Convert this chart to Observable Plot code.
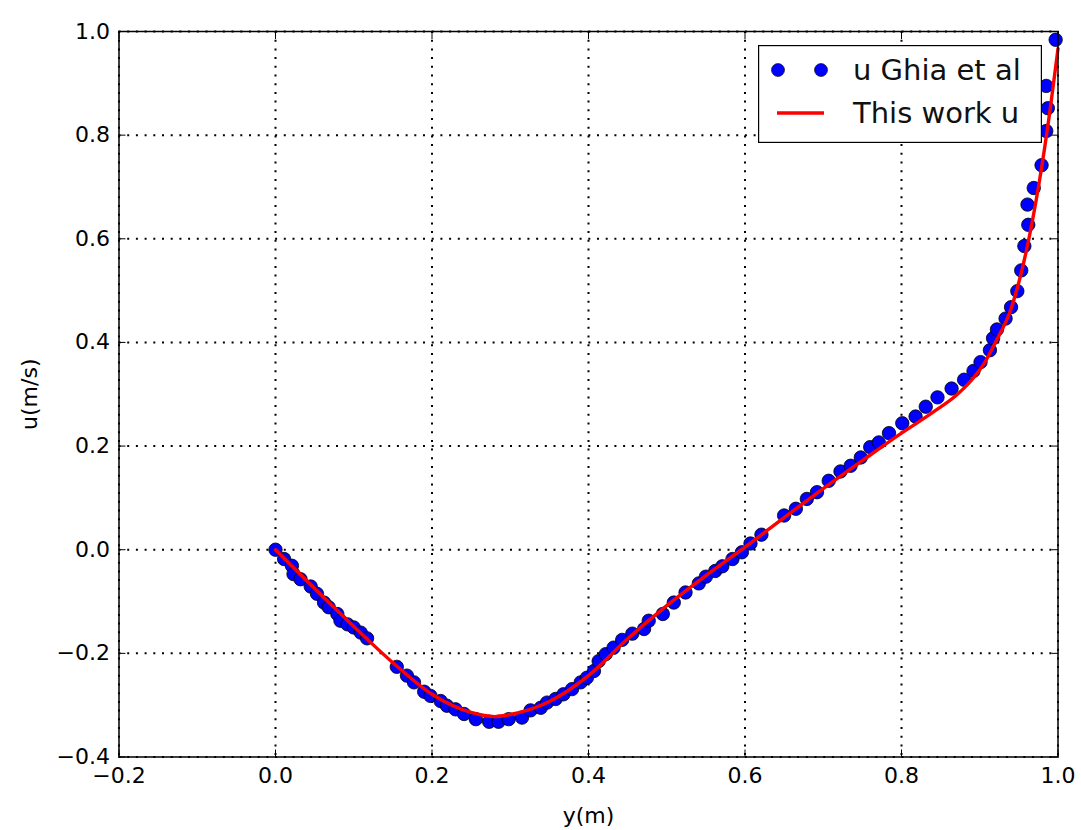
<!DOCTYPE html>
<html>
<head>
<meta charset="utf-8">
<script src="https://cdn.jsdelivr.net/npm/d3@7"></script>
<script src="https://cdn.jsdelivr.net/npm/@observablehq/plot@0.6"></script>
<style>
  body { margin: 0; background: #fff; }
  #wrap { position: relative; width: 1081px; height: 830px; font-family: "DejaVu Sans", sans-serif; }
  #legend { position: absolute; left: 758px; top: 45px; }
</style>
</head>
<body>
<div id="wrap"></div>
<script>
// Ghia et al. reference points (y position, u velocity)
const ghiaY = [0.000, 0.011, 0.021, 0.023, 0.032, 0.045, 0.053, 0.062, 0.068, 0.079, 0.083, 0.092, 0.100, 0.109, 0.117,
  0.155, 0.168, 0.177, 0.190, 0.198, 0.211, 0.219, 0.230, 0.241, 0.256, 0.273, 0.285, 0.298, 0.315, 0.326,
  0.339, 0.347, 0.358, 0.368, 0.379, 0.390, 0.398, 0.407, 0.413, 0.422, 0.432, 0.443, 0.456, 0.471, 0.477,
  0.495, 0.509, 0.524, 0.541, 0.550, 0.562, 0.571, 0.584, 0.596, 0.607, 0.621, 0.650, 0.665, 0.679, 0.692,
  0.707, 0.722, 0.735, 0.748, 0.760, 0.771, 0.784, 0.801, 0.818, 0.831, 0.846, 0.864, 0.880, 0.892, 0.901,
  0.913, 0.917, 0.922, 0.933, 0.940, 0.948, 0.953, 0.957, 0.962, 0.961, 0.969, 0.979, 0.985, 0.987, 0.985, 0.997];
const ghiaU = [0.000, -0.018, -0.031, -0.047, -0.057, -0.071, -0.085, -0.102, -0.111, -0.124, -0.137, -0.144, -0.150, -0.160, -0.171,
  -0.226, -0.243, -0.256, -0.274, -0.282, -0.292, -0.301, -0.308, -0.317, -0.327, -0.332, -0.332, -0.327, -0.324, -0.310,
  -0.305, -0.295, -0.288, -0.279, -0.269, -0.256, -0.247, -0.234, -0.215, -0.2015, -0.189, -0.174, -0.162, -0.153, -0.137,
  -0.124, -0.102, -0.0825, -0.065, -0.052, -0.041, -0.032, -0.018, -0.005, 0.012, 0.029, 0.066, 0.079, 0.098, 0.111,
  0.133, 0.151, 0.162, 0.178, 0.198, 0.207, 0.225, 0.244, 0.257, 0.276, 0.294, 0.311, 0.328, 0.345, 0.362,
  0.385, 0.408, 0.425, 0.446, 0.468, 0.499, 0.539, 0.586, 0.627, 0.666, 0.698, 0.742, 0.808, 0.852, 0.895, 0.984];

// This work (solid red line)
const workY = [0, 0.05, 0.10, 0.15, 0.20, 0.25, 0.28, 0.30, 0.35, 0.40, 0.45, 0.50, 0.55, 0.60, 0.65, 0.70, 0.75,
  0.80, 0.84, 0.87, 0.89, 0.905, 0.92, 0.94, 0.96, 0.975, 0.99, 1.0];
const workU = [0, -0.075, -0.148, -0.218, -0.279, -0.314, -0.322, -0.318, -0.293, -0.243, -0.172, -0.108, -0.050,
  0.005, 0.062, 0.118, 0.172, 0.225, 0.265, 0.298, 0.328, 0.358, 0.40, 0.465, 0.58, 0.70, 0.85, 0.967];

const xTicks = [-0.2, 0.0, 0.2, 0.4, 0.6, 0.8, 1.0];
const yTicks = [-0.4, -0.2, 0.0, 0.2, 0.4, 0.6, 0.8, 1.0];
const xLabel = "y(m)";
const yLabel = "u(m/s)";
const legendLabels = ["u Ghia et al", "This work u"];

const ghia = ghiaY.map((y, i) => ({y, u: ghiaU[i]}));
const work = workY.map((y, i) => ({y, u: workU[i]}));
const fmt = d3.format(".1f");
const grid = {stroke: "black", strokeOpacity: 1, strokeWidth: 2, strokeDasharray: "2,6.7"};
const noText = () => "";

const chart = Plot.plot({
  width: 1081,
  height: 830,
  marginLeft: 118.5,
  marginRight: 23.5,
  marginTop: 31,
  marginBottom: 73.5,
  style: {fontFamily: "DejaVu Sans", fontSize: "22px", background: "white", color: "black"},
  x: {domain: [-0.2, 1.0]},
  y: {domain: [-0.4, 1.0]},
  marks: [
    Plot.gridX(xTicks, grid),
    Plot.gridY(yTicks, grid),
    Plot.dot(ghia, {x: "y", y: "u", r: 6.7, fill: "#0000ff", stroke: "black", strokeWidth: 0.8}),
    Plot.line(work, {x: "y", y: "u", stroke: "red", strokeWidth: 3.4, curve: "monotone-x"}),
    Plot.axisX(xTicks, {anchor: "bottom", tickSize: 0, tickPadding: 10, tickFormat: fmt, label: xLabel, labelArrow: "none", labelAnchor: "center", labelOffset: 66, fontSize: 22}),
    Plot.axisY(yTicks, {anchor: "left", tickSize: 0, tickPadding: 9, tickFormat: fmt, label: yLabel, labelArrow: "none", labelAnchor: "center", labelOffset: 98, fontSize: 22}),
    Plot.axisX(xTicks, {anchor: "bottom", tickSize: -7, tickFormat: noText, label: null}),
    Plot.axisX(xTicks, {anchor: "top", tickSize: -7, tickFormat: noText, label: null}),
    Plot.axisY(yTicks, {anchor: "left", tickSize: -7, tickFormat: noText, label: null}),
    Plot.axisY(yTicks, {anchor: "right", tickSize: -7, tickFormat: noText, label: null}),
    Plot.frame({stroke: "black", strokeWidth: 1.5})
  ]
});

const wrap = document.getElementById("wrap");
wrap.appendChild(chart);

// Legend overlay inside the plot area (upper right)
const ns = "http://www.w3.org/2000/svg";
const leg = d3.create("svg").attr("id", "legend").attr("width", 284).attr("height", 98)
  .attr("xmlns", ns).style("font-family", "DejaVu Sans").style("font-size", "29px");
leg.append("rect").attr("x", 0.6).attr("y", 0.6).attr("width", 282.8).attr("height", 96.8)
  .attr("fill", "white").attr("stroke", "black").attr("stroke-width", 1.2);
[20, 63].forEach(cx => leg.append("circle").attr("cx", cx).attr("cy", 25).attr("r", 6.5)
  .attr("fill", "#0000ff").attr("stroke", "black").attr("stroke-width", 0.6));
leg.append("line").attr("x1", 19).attr("x2", 66).attr("y1", 68).attr("y2", 68)
  .attr("stroke", "red").attr("stroke-width", 3.4);
leg.append("text").attr("x", 95).attr("y", 35).attr("fill", "#111").text(legendLabels[0]);
leg.append("text").attr("x", 95).attr("y", 78).attr("fill", "#111").text(legendLabels[1]);
wrap.appendChild(leg.node());
</script>
</body>
</html>
